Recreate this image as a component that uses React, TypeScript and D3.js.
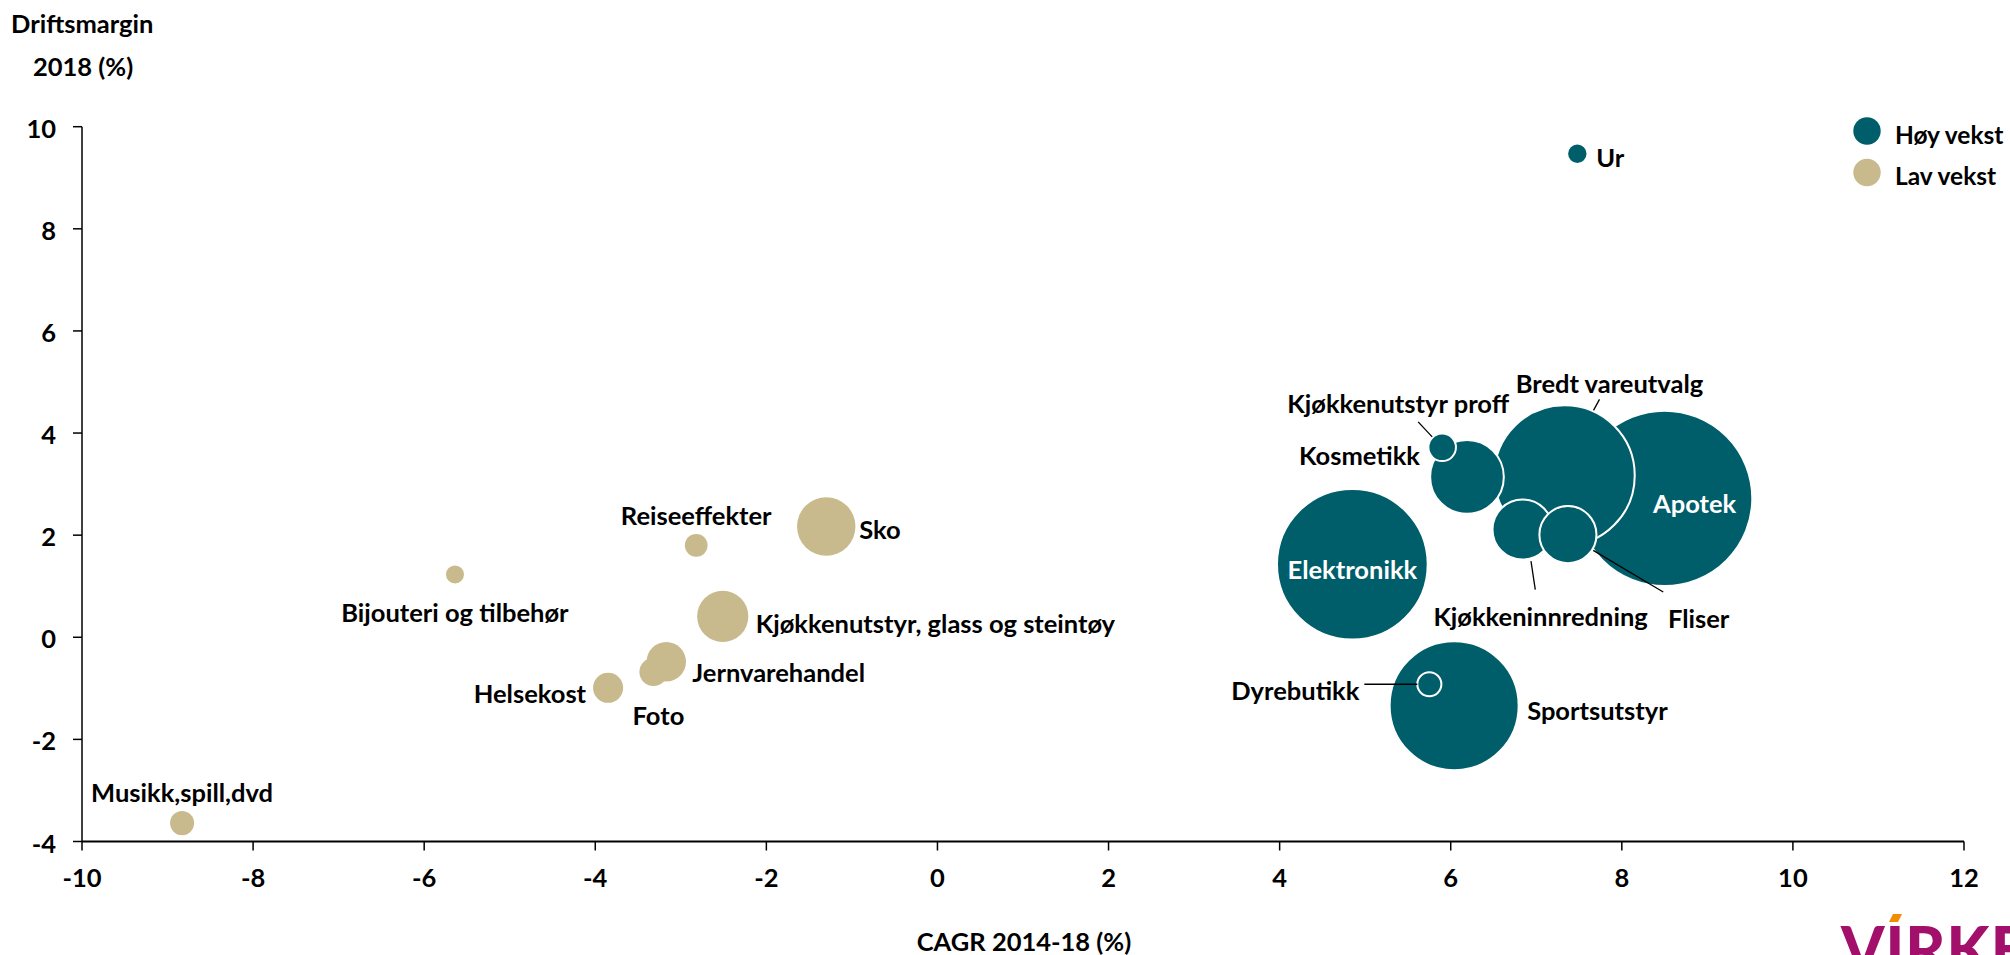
import React from "react";
import * as d3 from "d3";

// ---- Data ----
const names = [
  "Apotek", "Bredt vareutvalg", "Elektronikk", "Sportsutstyr", "Kosmetikk",
  "Kjøkkeninnredning", "Fliser", "Kjøkkenutstyr proff", "Dyrebutikk", "Ur",
  "Sko", "Kjøkkenutstyr, glass og steintøy", "Jernvarehandel", "Helsekost",
  "Foto", "Musikk,spill,dvd", "Reiseeffekter", "Bijouteri og tilbehør",
];
const cagr = [8.5, 7.33, 4.85, 6.04, 6.19, 6.84, 7.37, 5.9, 5.75, 7.48,
  -1.3, -2.51, -3.17, -3.85, -3.32, -8.83, -2.82, -5.64];
const margin = [2.72, 3.17, 1.43, -1.34, 3.14, 2.11, 2.01, 3.72, -0.92, 9.47,
  2.17, 0.41, -0.48, -0.99, -0.68, -3.64, 1.8, 1.23];
const sizes = [34, 21.8, 25.1, 18.4, 6.0, 4.0, 3.6, 0.84, 0.64, 0.46,
  3.77, 2.9, 1.72, 1.0, 0.87, 0.64, 0.57, 0.36];
const groups = ["Høy vekst", "Høy vekst", "Høy vekst", "Høy vekst", "Høy vekst",
  "Høy vekst", "Høy vekst", "Høy vekst", "Høy vekst", "Høy vekst",
  "Lav vekst", "Lav vekst", "Lav vekst", "Lav vekst", "Lav vekst",
  "Lav vekst", "Lav vekst", "Lav vekst"];
const legendGroups = ["Høy vekst", "Lav vekst"];
const xTicks = [-10, -8, -6, -4, -2, 0, 2, 4, 6, 8, 10, 12];
const yTicks = [-4, -2, 0, 2, 4, 6, 8, 10];

// ---- Label layout (pixel offsets from bubble centre) ----
type Lab = { dx: number; dy: number; anchor: string; white?: boolean; line?: number[] };
const labelLayout: Record<string, Lab> = {
  "Ur": { dx: 19, dy: 3, anchor: "start" },
  "Apotek": { dx: 30, dy: 5, anchor: "middle", white: true },
  "Bredt vareutvalg": { dx: 45, dy: -92, anchor: "middle", line: [29, -65, 35, -76] },
  "Kosmetikk": { dx: -47, dy: -22, anchor: "end" },
  "Kjøkkenutstyr proff": { dx: -44, dy: -44, anchor: "middle", line: [-10, -10.5, -24, -25.5] },
  "Kjøkkeninnredning": { dx: 18, dy: 86, anchor: "middle", line: [8.4, 31.5, 12.7, 60] },
  "Fliser": { dx: 100, dy: 83, anchor: "start", line: [25.3, 15.7, 95.3, 57.4] },
  "Elektronikk": { dx: 0, dy: 5, anchor: "middle", white: true },
  "Sportsutstyr": { dx: 73, dy: 4, anchor: "start" },
  "Dyrebutikk": { dx: -70, dy: 6, anchor: "end", line: [-12, 0, -65, 0] },
  "Sko": { dx: 33, dy: 3, anchor: "start" },
  "Reiseeffekter": { dx: 0, dy: -30, anchor: "middle" },
  "Bijouteri og tilbehør": { dx: 0, dy: 38, anchor: "middle" },
  "Kjøkkenutstyr, glass og steintøy": { dx: 33, dy: 7, anchor: "start" },
  "Jernvarehandel": { dx: 26, dy: 10, anchor: "start" },
  "Foto": { dx: 5, dy: 43, anchor: "middle" },
  "Helsekost": { dx: -22, dy: 5, anchor: "end" },
  "Musikk,spill,dvd": { dx: 0, dy: -31, anchor: "middle" },
};

const W = 2010;
const H = 955;
const FONT = "Lato, 'Open Sans', sans-serif";
const FS = 25.5;

export default function App() {
  const x = d3.scaleLinear().domain([-10, 12]).range([82, 1964]);
  const y = d3.scaleLinear().domain([-4, 10]).range([841.5, 126.7]);
  const r = d3.scaleSqrt().domain([0, 34]).range([0, 87.7]);
  const color = d3.scaleOrdinal<string, string>().domain(legendGroups).range(["#005E6A", "#C8BA8D"]);

  const pts = names.map((n, i) => ({ name: n, cx: cagr[i], cy: margin[i], s: sizes[i], g: groups[i] }));
  const ordered = [...pts].sort((a, b) => d3.descending(a.s, b.s));

  const textStyle: React.CSSProperties = { fontFamily: FONT, fontWeight: 700, fontSize: FS };

  return (
    <svg width={W} height={H} style={{ position: "absolute", left: 0, top: 0, background: "#fff" }}>
      {/* axis titles */}
      <text x={11} y={23} dominantBaseline="central" style={textStyle}>Driftsmargin</text>
      <text x={33} y={66} dominantBaseline="central" style={textStyle}>2018 (%)</text>
      <text x={1024} y={941} textAnchor="middle" dominantBaseline="central" style={textStyle}>CAGR 2014-18 (%)</text>

      {/* y axis */}
      <line x1={x(-10)} x2={x(-10)} y1={y(10)} y2={y(-4)} stroke="#000" strokeWidth={1.5} />
      {yTicks.map((t) => (
        <g key={"y" + t}>
          <line x1={x(-10) - 9} x2={x(-10)} y1={y(t)} y2={y(t)} stroke="#000" strokeWidth={1.5} />
          <text x={56} y={y(t) + 1} textAnchor="end" dominantBaseline="central" style={textStyle}>{t}</text>
        </g>
      ))}
      {/* x axis */}
      <line x1={x(-10)} x2={x(12)} y1={y(-4)} y2={y(-4)} stroke="#000" strokeWidth={2} />
      {xTicks.map((t) => (
        <g key={"x" + t}>
          <line x1={x(t)} x2={x(t)} y1={y(-4)} y2={y(-4) + 9} stroke="#000" strokeWidth={1.5} />
          <text x={x(t)} y={877} textAnchor="middle" dominantBaseline="central" style={textStyle}>{t}</text>
        </g>
      ))}

      {/* bubbles */}
      {ordered.map((p) => (
        <circle key={p.name} cx={x(p.cx)} cy={y(p.cy)} r={r(p.s)} fill={color(p.g)}
          stroke={p.g === "Høy vekst" ? "#fff" : "none"} strokeWidth={p.g === "Høy vekst" ? 2 : 0} />
      ))}

      {/* labels */}
      {pts.map((p) => {
        const L = labelLayout[p.name];
        const px = x(p.cx);
        const py = y(p.cy);
        return (
          <g key={"l" + p.name}>
            {L.line && (
              <line x1={px + L.line[0]} y1={py + L.line[1]} x2={px + L.line[2]} y2={py + L.line[3]}
                stroke="#000" strokeWidth={1.3} />
            )}
            <text x={px + L.dx} y={py + L.dy} textAnchor={L.anchor as any} dominantBaseline="central"
              style={{ ...textStyle, fill: L.white ? "#fff" : "#000" }}>{p.name}</text>
          </g>
        );
      })}

      {/* legend */}
      {legendGroups.map((g, i) => (
        <g key={"lg" + g}>
          <circle cx={1867} cy={131 + i * 41.5} r={13.7} fill={color(g)} />
          <text x={1895} y={134 + i * 41.5} dominantBaseline="central" style={{ ...textStyle, fontSize: 24.5 }}>{g}</text>
        </g>
      ))}

      {/* logo */}
      <text x={1841} y={972} style={{ fontFamily: FONT, fontWeight: 900, fontSize: 62, fill: "#A3106B", letterSpacing: 1 }}>VIRKE</text>
      <path d="M1889,922 L1893,914 L1902,914 L1898,922 Z" fill="#F28C00" />
    </svg>
  );
}
